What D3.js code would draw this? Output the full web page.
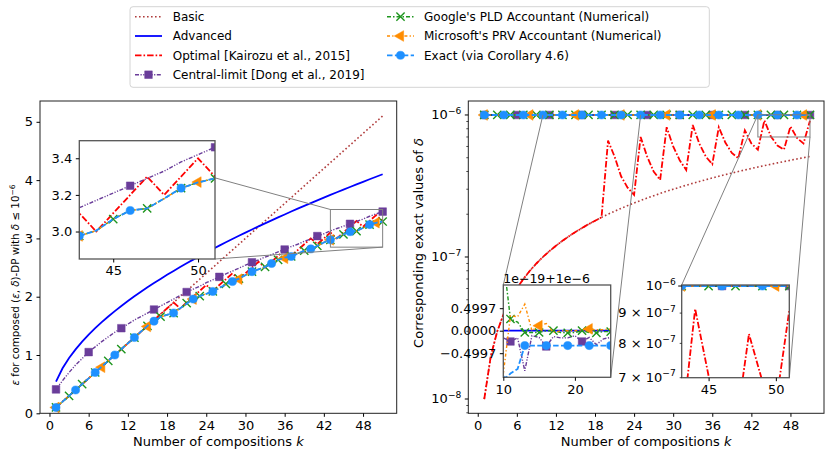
<!DOCTYPE html>
<html>
<head>
<meta charset="utf-8">
<script src="https://cdn.jsdelivr.net/npm/d3@7"></script>
<style>
  body { margin: 0; background: #fff; }
  svg text { font-family: "DejaVu Sans", sans-serif; fill: #000; }
</style>
</head>
<body>
<svg id="chart" width="831" height="456"></svg>
<script>
// number of compositions k
const kValues = [1,2,3,4,5,6,7,8,9,10,11,12,13,14,15,16,17,18,19,20,21,22,23,24,25,26,
  27,28,29,30,31,32,33,34,35,36,37,38,39,40,41,42,43,44,45,46,47,48,49,50,51];

// epsilon for composed (eps, delta)-DP
const epsBasic = [0.1,0.2,0.3,0.4,0.5,0.6,0.7,0.8,0.9,1.0,1.1,1.2,1.3,1.4,1.5,1.6,1.7,1.8,1.9,2.0,
  2.1,2.2,2.3,2.4,2.5,2.6,2.7,2.8,2.9,3.0,3.1,3.2,3.3,3.4,3.5,3.6,3.7,3.8,3.9,4.0,4.1,4.2,4.3,4.4,
  4.5,4.6,4.7,4.8,4.9,5.0,5.1];
const epsAdvanced = [0.544,0.772,0.948,1.097,1.229,1.349,1.460,1.563,1.661,1.753,1.841,1.925,2.007,
  2.085,2.161,2.234,2.305,2.375,2.442,2.508,2.573,2.636,2.698,2.758,2.818,2.876,2.933,2.989,3.045,
  3.099,3.153,3.206,3.258,3.310,3.361,3.411,3.461,3.510,3.558,3.606,3.653,3.700,3.746,3.792,3.837,
  3.882,3.927,3.971,4.015,4.058,4.101];
const epsOptimal = [0.1,0.2,0.3,0.4,0.5,0.6,0.7,0.8,0.9,1.0,1.1,1.2,1.3,1.4,1.5,1.6,1.7,1.8,1.9,
  1.8,1.9,2.0,2.1,2.2, 2.1,2.2,2.3,2.4, 2.3,2.4,2.5,2.6, 2.5,2.6,2.7,2.8, 2.7,2.8,2.9,3.0,
  2.9,3.0,3.1, 3.0,3.1,3.2,3.3, 3.2,3.3,3.4, 3.3];
const epsCLT = [0.41,0.56,0.70,0.83,0.94,1.05,1.14,1.23,1.31,1.39,1.46,1.53,1.60,1.66,1.72,1.78,
  1.84,1.90,1.96,2.02,2.08,2.13,2.18,2.24,2.29,2.34,2.39,2.44,2.49,2.54,2.59,2.63,2.68,2.72,2.77,
  2.81,2.86,2.90,2.95,2.99,3.04,3.08,3.13,3.17,3.21,3.25,3.29,3.33,3.38,3.42,3.46];
const epsPLD = [0.10,0.20,0.30,0.40,0.50,0.60,0.70,0.80,0.90,1.00,1.10,1.20,1.30,1.40,1.50,1.58,
  1.66,1.69,1.72,1.80,1.89,1.96,2.01,2.05,2.09,2.15,2.22,2.26,2.31,2.37,2.43,2.47,2.51,2.57,2.63,
  2.67,2.69,2.74,2.79,2.82,2.87,2.93,2.976,3.005,3.068,3.115,3.126,3.18,3.237,3.268,3.29];
const epsPRV = [0.10,0.20,0.30,0.40,0.50,0.60,0.70,0.79,0.90,1.00,1.10,1.20,1.30,1.40,1.49,1.58,
  1.65,1.69,1.72,1.80,1.88,1.96,2.01,2.05,2.09,2.15,2.21,2.26,2.30,2.37,2.43,2.47,2.51,2.57,2.63,
  2.66,2.69,2.74,2.79,2.82,2.87,2.93,2.976,3.005,3.068,3.115,3.126,3.18,3.237,3.27,3.29];
const epsExact = [0.10,0.20,0.30,0.40,0.50,0.60,0.70,0.80,0.90,1.00,1.10,1.20,1.30,1.40,1.50,1.58,
  1.65,1.69,1.72,1.80,1.88,1.96,2.01,2.05,2.09,2.15,2.21,2.26,2.31,2.37,2.43,2.47,2.51,2.57,2.63,
  2.67,2.69,2.74,2.79,2.82,2.87,2.93,2.976,3.005,3.068,3.115,3.126,3.18,3.237,3.268,3.29];

// corresponding exact delta
const deltaBasic = [1e-8,2e-8,3e-8,4e-8,5e-8,6e-8,7e-8,8e-8,9e-8,10e-8,11e-8,12e-8,13e-8,14e-8,
  15e-8,16e-8,17e-8,18e-8,19e-8,20e-8,21e-8,22e-8,23e-8,24e-8,25e-8,26e-8,27e-8,28e-8,29e-8,
  30e-8,31e-8,32e-8,33e-8,34e-8,35e-8,36e-8,37e-8,38e-8,39e-8,40e-8,41e-8,42e-8,43e-8,44e-8,
  45e-8,46e-8,47e-8,48e-8,49e-8,50e-8,51e-8];
const deltaOptimal = [1e-8,2e-8,3e-8,4e-8,5e-8,6e-8,7e-8,8e-8,9e-8,10e-8,11e-8,12e-8,13e-8,14e-8,
  15e-8,16e-8,17e-8,18e-8,19e-8, 66e-8,51e-8,37e-8,30.8e-8,27.4e-8, 70e-8,51e-8,40e-8,34.9e-8,
  82e-8,60e-8,48e-8,41e-8, 85e-8,63e-8,51e-8,45e-8, 82e-8,64e-8,54e-8,49.6e-8, 78e-8,63e-8,57e-8,
  91.5e-8,70.5e-8,61e-8,57e-8, 83e-8,69e-8,63e-8, 91e-8];
const deltaTarget = 1e-6;   // all other accountants sit on the target delta

// zoom of the target line: deviation from 1e-6, in units of 1e-19
const insetK = [10,11,12,13,14,15,16,17,18,19,20,21,22,23,24,25];
const devAdvanced = [0,0,0,0,0,0,0,0,0,0,0,0,0,0,0,0];
const devCLT = [-0.16,-0.24,-0.16,-0.89,-0.11,-0.15,-0.35,-0.13,-0.16,-0.16,-0.11,-0.24,-0.15,-0.31,-0.18,-0.15];
const devPLD = [1.6,0.26,0.19,-0.04,-0.04,-0.04,0.0,0.0,-0.04,-0.05,-0.04,0.0,-0.04,-0.05,-0.02,-0.02];
const devPRV = [-0.96,0.33,0.31,0.59,0.0,0.11,0.16,-0.04,0.0,0.0,0.0,0.02,0.04,0.02,0.02,0.04];
const devExact = [-1.1,-0.95,-0.85,-0.33,-0.33,-0.33,-0.33,-0.33,-0.33,-0.33,-0.33,-0.33,-0.33,-0.33,-0.33,-0.33];

const xTicks = [0,6,12,18,24,30,36,42,48];
const epsTicks = [0,1,2,3,4,5];

const series = [
  { name: 'Basic', eps: epsBasic, delta: deltaBasic, color: '#b03c3c', dash: '1.6,2.4', width: 1.6 },
  { name: 'Advanced', eps: epsAdvanced, dev: devAdvanced, color: '#0000ff', dash: null, width: 1.8 },
  { name: 'Optimal [Kairozu et al., 2015]', eps: epsOptimal, delta: deltaOptimal, color: '#ff0000', dash: '6.5,2,1.6,2', width: 1.8 },
  { name: 'Central-limit [Dong et al., 2019]', eps: epsCLT, dev: devCLT, color: '#6a3d9a', dash: '4,1.5,1.2,1.5,1.2,1.5', width: 1.4, marker: 'square', every: 5 },
  { name: "Google's PLD Accountant (Numerical)", eps: epsPLD, dev: devPLD, color: '#1f961f', dash: '4,2,1.5,2', width: 1.4, marker: 'x', every: 2 },
  { name: "Microsoft's PRV Accountant (Numerical)", eps: epsPRV, dev: devPRV, color: '#ff8c00', dash: '3,2.2,1.3,2.2', width: 1.4, marker: 'tri', every: 7 },
  { name: 'Exact (via Corollary 4.6)', eps: epsExact, dev: devExact, color: '#1e90ff', dash: '5.5,2.4', width: 1.8, marker: 'circle', every: 3 }
];

const svg = d3.select('#chart');
const defs = svg.append('defs');
const FS = 13;

function clipBox(id, b) {
  defs.append('clipPath').attr('id', id).append('rect')
    .attr('x', b.x0).attr('y', b.y0).attr('width', b.x1 - b.x0).attr('height', b.y1 - b.y0);
}

function symbolPath(type) {
  if (type === 'square') return d3.symbol(d3.symbolSquare, 58)();
  if (type === 'circle') return d3.symbol(d3.symbolCircle, 52)();
  if (type === 'tri') return d3.symbol(d3.symbolTriangle, 50)();
  return d3.symbol(d3.symbolTimes, 46)();
}

function drawMarkers(g, s, pts) {
  g.selectAll(null).data(pts).join('path')
    .attr('transform', d => `translate(${d[0]},${d[1]})` + (s.marker === 'tri' ? ' rotate(-90)' : ''))
    .attr('d', symbolPath(s.marker))
    .attr('fill', s.marker === 'x' ? 'none' : s.color)
    .attr('stroke', s.color)
    .attr('stroke-width', s.marker === 'x' ? 1.4 : 0.5);
}

function drawSeries(g, s, xs, ys, x, y) {
  const pts = d3.zip(xs, ys);
  g.append('path')
    .attr('d', d3.line().x(d => x(d[0])).y(d => y(d[1]))(pts))
    .attr('fill', 'none').attr('stroke', s.color)
    .attr('stroke-width', s.width).attr('stroke-dasharray', s.dash);
  if (s.marker) {
    const m = pts.filter(d => (d[0] - 1) % s.every === 0).map(d => [x(d[0]), y(d[1])]);
    drawMarkers(g, s, m);
  }
}

function styleAxis(a, size) {
  a.select('.domain').remove();
  a.selectAll('line').attr('stroke', '#000');
  a.selectAll('text').attr('font-size', size || FS).attr('fill', '#000');
}

function bottomAxis(g, x, yPos, ticks, size) {
  g.append('g').attr('transform', `translate(0,${yPos})`)
    .call(d3.axisBottom(x).tickValues(ticks).tickFormat(d3.format('d')).tickSize(3.5).tickPadding(3.5))
    .call(a => styleAxis(a, size));
}

function leftAxis(g, y, xPos, ticks, fmt, size) {
  g.append('g').attr('transform', `translate(${xPos},0)`)
    .call(d3.axisLeft(y).tickValues(ticks).tickFormat(fmt).tickSize(3.5).tickPadding(3.5))
    .call(a => styleAxis(a, size));
}

// power-of-ten tick label: "<base>" with a superscript exponent
function powText(g, xPos, yPos, base, exp, size) {
  const t = g.append('text').attr('x', xPos).attr('y', yPos).attr('dy', '0.32em')
    .attr('text-anchor', 'end').attr('font-size', size);
  t.append('tspan').text(base);
  t.append('tspan').attr('dy', -size * 0.42).attr('font-size', size * 0.7).text(exp);
  return t;
}

function frame(g, b, color, w) {
  g.append('rect').attr('x', b.x0).attr('y', b.y0)
    .attr('width', b.x1 - b.x0).attr('height', b.y1 - b.y0)
    .attr('fill', 'none').attr('stroke', color).attr('stroke-width', w);
}

function zoomMark(g, rect, inset) {
  frame(g, rect, '#808080', 1);
  const lines = [[inset.x0, inset.y0, rect.x0, rect.y0], [inset.x1, inset.y1, rect.x1, rect.y1]];
  g.selectAll(null).data(lines).join('line')
    .attr('x1', d => d[0]).attr('y1', d => d[1]).attr('x2', d => d[2]).attr('y2', d => d[3])
    .attr('stroke', '#808080').attr('stroke-width', 1);
}

// ---------- left panel: epsilon ----------
const boxL = { x0: 40, y0: 101, x1: 396.7, y1: 413.3 };
const xL = d3.scaleLinear([-1.45, 53.15], [boxL.x0, boxL.x1]);
const yL = d3.scaleLinear([0, 5.357], [boxL.y1, boxL.y0]);
clipBox('clipL', boxL);
const gL = svg.append('g');
const gLData = gL.append('g').attr('clip-path', 'url(#clipL)');
series.forEach(s => drawSeries(gLData, s, kValues, s.eps, xL, yL));
frame(gL, boxL, '#222', 1);
bottomAxis(gL, xL, boxL.y1, xTicks);
leftAxis(gL, yL, boxL.x0, epsTicks, d3.format('d'));

const insL = { x0: 79.3, y0: 140.7, x1: 215, y1: 259 };
const xIL = d3.scaleLinear([43, 51], [insL.x0, insL.x1]);
const yIL = d3.scaleLinear([2.85, 3.496], [insL.y1, insL.y0]);
zoomMark(gL, { x0: xL(43), y0: yL(3.496), x1: xL(51), y1: yL(2.85) }, insL);
clipBox('clipIL', insL);
gL.append('rect').attr('x', insL.x0).attr('y', insL.y0).attr('width', insL.x1 - insL.x0)
  .attr('height', insL.y1 - insL.y0).attr('fill', '#fff');
const gILData = gL.append('g').attr('clip-path', 'url(#clipIL)');
series.forEach(s => drawSeries(gILData, s, kValues, s.eps, xIL, yIL));
frame(gL, insL, '#555', 1.3);
bottomAxis(gL, xIL, insL.y1, [45, 50]);
leftAxis(gL, yIL, insL.x0, [3.0, 3.2, 3.4], d3.format('.1f'));

gL.append('text').attr('x', (boxL.x0 + boxL.x1) / 2).attr('y', 445.5).attr('text-anchor', 'middle')
  .attr('font-size', FS)
  .call(t => { t.append('tspan').text('Number of compositions '); t.append('tspan').attr('font-style', 'italic').text('k'); });

const yLab = gL.append('text').attr('transform', 'translate(19,285) rotate(-90)')
  .attr('text-anchor', 'middle').attr('font-size', 10.3);
yLab.append('tspan').attr('font-style', 'italic').text('ε');
yLab.append('tspan').text(' for composed (');
yLab.append('tspan').attr('font-style', 'italic').text('ε');
yLab.append('tspan').text(', ');
yLab.append('tspan').attr('font-style', 'italic').text('δ');
yLab.append('tspan').text(')-DP with ');
yLab.append('tspan').attr('font-style', 'italic').text('δ');
yLab.append('tspan').text(' ≤ 10');
yLab.append('tspan').attr('dy', -4.5).attr('font-size', 7.5).text('−6');

// ---------- right panel: delta ----------
const boxR = { x0: 468.3, y0: 101, x1: 824, y1: 413.3 };
const xR = d3.scaleLinear([-1.45, 53.15], [boxR.x0, boxR.x1]);
const yR = d3.scaleLog([Math.pow(10, -8.1006), Math.pow(10, -5.9016)], [boxR.y1, boxR.y0]);
clipBox('clipR', boxR);
const gR = svg.append('g');
const gRData = gR.append('g').attr('clip-path', 'url(#clipR)');
const deltaOf = s => s.delta || kValues.map(() => deltaTarget);
series.forEach(s => drawSeries(gRData, s, kValues, deltaOf(s), xR, yR));
frame(gR, boxR, '#222', 1);
bottomAxis(gR, xR, boxR.y1, xTicks);

// log y axis with minor ticks
const yDom = yR.domain();
const minorR = [];
[-9, -8, -7, -6].forEach(e => [2,3,4,5,6,7,8,9].forEach(m => {
  const v = m * Math.pow(10, e);
  if (v > yDom[0] && v < yDom[1]) minorR.push(v);
}));
gR.selectAll(null).data(minorR).join('line')
  .attr('x1', boxR.x0 - 2).attr('x2', boxR.x0).attr('y1', d => yR(d)).attr('y2', d => yR(d))
  .attr('stroke', '#000').attr('stroke-width', 0.7);
[[1e-8, '−8'], [1e-7, '−7'], [1e-6, '−6']].forEach(([v, e]) => {
  gR.append('line').attr('x1', boxR.x0 - 3.5).attr('x2', boxR.x0).attr('y1', yR(v)).attr('y2', yR(v))
    .attr('stroke', '#000');
  powText(gR, boxR.x0 - 7, yR(v), '10', e, FS);
});

gR.append('text').attr('x', (boxR.x0 + boxR.x1) / 2).attr('y', 445.5).attr('text-anchor', 'middle')
  .attr('font-size', FS)
  .call(t => { t.append('tspan').text('Number of compositions '); t.append('tspan').attr('font-style', 'italic').text('k'); });
const yLabR = gR.append('text').attr('transform', 'translate(423,243) rotate(-90)')
  .attr('text-anchor', 'middle').attr('font-size', FS);
yLabR.append('tspan').text('Corresponding exact values of ');
yLabR.append('tspan').attr('font-style', 'italic').text('δ');

// inset 1: target line magnified around 1e-6
const ins1 = { x0: 503.3, y0: 285, x1: 610.7, y1: 377.3 };
const xI1 = d3.scaleLinear([10, 25], [ins1.x0, ins1.x1]);
const yI1 = d3.scaleLinear([-1.035, 1.015], [ins1.y1, ins1.y0]);
zoomMark(gR, { x0: xR(10), y0: yR(deltaTarget), x1: xR(25), y1: yR(deltaTarget) }, ins1);

// inset 2: tail of the optimal curve
const ins2 = { x0: 681.7, y0: 285, x1: 789.3, y1: 377.7 };
const xI2 = d3.scaleLinear([43, 51], [ins2.x0, ins2.x1]);
const yI2 = d3.scaleLog([7e-7, 1.004e-6], [ins2.y1, ins2.y0]);
zoomMark(gR, { x0: xR(43), y0: yR(1.004e-6), x1: xR(51), y1: yR(7e-7) }, ins2);

[[ins1, 'clipI1'], [ins2, 'clipI2']].forEach(([b, id]) => {
  clipBox(id, b);
  gR.append('rect').attr('x', b.x0).attr('y', b.y0).attr('width', b.x1 - b.x0)
    .attr('height', b.y1 - b.y0).attr('fill', '#fff');
});
const gI1 = gR.append('g').attr('clip-path', 'url(#clipI1)');
series.filter(s => s.dev).forEach(s => drawSeries(gI1, s, insetK, s.dev, xI1, yI1));
frame(gR, ins1, '#555', 1.3);
bottomAxis(gR, xI1, ins1.y1, [10, 20]);
leftAxis(gR, yI1, ins1.x0, [-0.4997, 0, 0.4997], d => (d < 0 ? '−' : '') + Math.abs(d).toFixed(4));
gR.append('text').attr('x', ins1.x0).attr('y', 282.5).attr('font-size', 12.5).text('1e−19+1e−6');

const gI2 = gR.append('g').attr('clip-path', 'url(#clipI2)');
series.forEach(s => drawSeries(gI2, s, kValues, deltaOf(s), xI2, yI2));
frame(gR, ins2, '#555', 1.3);
bottomAxis(gR, xI2, ins2.y1, [45, 50]);
[[1e-6, '10', '−6', 3.5], [9e-7, '9 × 10', '−7', 2], [8e-7, '8 × 10', '−7', 2], [7e-7, '7 × 10', '−7', 2]]
  .forEach(([v, b, e, len]) => {
    gR.append('line').attr('x1', ins2.x0 - len).attr('x2', ins2.x0).attr('y1', yI2(v)).attr('y2', yI2(v))
      .attr('stroke', '#000').attr('stroke-width', len > 3 ? 1 : 0.7);
    powText(gR, ins2.x0 - 6, yI2(v), b, e, FS);
  });

// ---------- legend ----------
const legend = svg.append('g');
legend.append('rect').attr('x', 130).attr('y', 6.7).attr('width', 579.3).attr('height', 80.6)
  .attr('rx', 3).attr('fill', '#fff').attr('stroke', '#d4d4d4').attr('stroke-width', 1);
const rowY = [16.7, 36, 55.3, 74.7];
const cols = [{ h0: 135, h1: 162, tx: 172.7 }, { h0: 387, h1: 414, tx: 424 }];
series.forEach((s, i) => {
  const c = cols[i < 4 ? 0 : 1];
  const yy = rowY[i < 4 ? i : i - 4];
  legend.append('line').attr('x1', c.h0).attr('x2', c.h1).attr('y1', yy).attr('y2', yy)
    .attr('stroke', s.color).attr('stroke-width', s.width).attr('stroke-dasharray', s.dash);
  if (s.marker) drawMarkers(legend, s, [[(c.h0 + c.h1) / 2, yy]]);
  legend.append('text').attr('x', c.tx).attr('y', yy).attr('dy', '0.36em')
    .attr('font-size', 12).text(s.name);
});
</script>
</body>
</html>
